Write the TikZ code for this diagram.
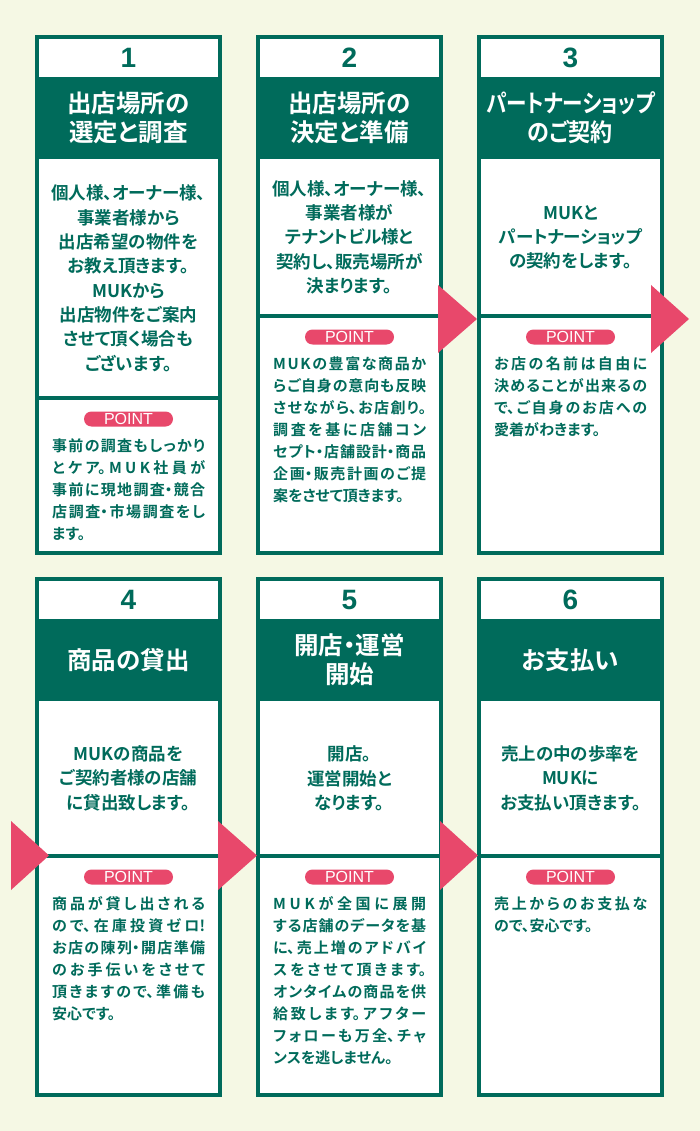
\documentclass[tikz,border=0pt]{standalone}
\usepackage{fontspec}
\setmainfont{Noto Sans CJK JP}[BoldFont={Noto Sans CJK JP Bold},RawFeature=+palt]
\newfontfamily\numfont{Liberation Sans}
\definecolor{bg}{HTML}{F5F8E4}
\definecolor{mg}{HTML}{006B5B}
\definecolor{pk}{HTML}{E8486B}
\tikzset{
 numtxt/.style={font=\numfont\bfseries\fontsize{28}{28}\selectfont, text=mg, inner sep=0},
 headtxt/.style={font=\bfseries\fontsize{24.5}{29}\selectfont, text=white, align=center, inner sep=0},
 bodytxt/.style={font=\bfseries\fontsize{17.5}{24.3}\selectfont, text=mg, align=center, inner sep=0},
 pill/.style={fill=pk, rounded corners=7.5, minimum width=89, minimum height=15, inner sep=0, text=white, font=\numfont\fontsize{16}{16}\selectfont},
 pointtxt/.style={inner sep=0, anchor=base west, text=mg},
 tri/.style={fill=pk},
 cardline/.style={draw=mg, line width=4}
}
\newcommand\lsp{\hspace{0pt plus 6pt}}
\newcommand\muk{M\lsp U\lsp K}
\newcommand\ptext[1]{\parbox[t]{153pt}{\bfseries\fontsize{15}{22}\selectfont\XeTeXlinebreaklocale "ja"\XeTeXlinebreakskip=0pt plus 6pt\relax\tolerance=10000\parindent=0pt\parfillskip=0pt plus 1fil\leftskip=0pt\rightskip=0pt #1\par}}
% #1 name, #2 left x, #3 top y, #4 divider y, #5 number, #6 header, #7 body, #8 point
\newcommand\mkcard[8]{%
 \fill[white] (#2,#3) rectangle ({#2+187},{#3+520});
 \fill[mg] (#2,{#3+42}) rectangle ({#2+187},{#3+124});
 \draw[cardline] (#2,#4) -- ({#2+187},#4);
 \draw[cardline] ({#2+2},{#3+2}) rectangle ({#2+185},{#3+518});
 \node[numtxt] (n#1) at ({#2+93.5},{#3+22.5}) {#5};
 \node[headtxt] (h#1) at ({#2+93.5},{#3+83}) {#6};
 \node[bodytxt] (b#1) at ({#2+93.5},{(#3+124+#4)/2}) {#7};
 \node[pill] (p#1) at ({#2+93.5},{#4+21.5}) {POINT};
 \node[pointtxt] (t#1) at ({#2+17},{#4+54}) {\ptext{#8}};
}
\begin{document}
\begin{tikzpicture}[x=1pt,y=-1pt]
\useasboundingbox (0,0) rectangle (700,1131);
\fill[bg] (0,0) rectangle (700,1131);
\mkcard{1}{35}{35}{397.5}{1}{出店場所の\\選定と調査}{個人様、オーナー様、\\事業者様から\\出店希望の物件を\\お教え頂きます。\\MUKから\\出店物件をご案内\\させて頂く場合も\\ございます。}{事前の調査もしっかり\linebreak とケア。\muk 社員が\linebreak 事前に現地調査・競合\linebreak 店調査・市場調査をし\linebreak ます。}
\mkcard{2}{256}{35}{315.5}{2}{出店場所の\\決定と準備}{個人様、オーナー様、\\事業者様が\\テナントビル様と\\契約し、販売場所が\\決まります。}{\muk の豊富な商品か\linebreak らご自身の意向も反映\linebreak させながら、お店創り。\linebreak 調査を基に店舗コン\linebreak セプト・店舗設計・商品\linebreak 企画・販売計画のご提\linebreak 案をさせて頂きます。}
\mkcard{3}{477}{35}{315.5}{3}{\scalebox{0.84}[1]{パートナーショップ}\\\scalebox{0.9}[1]{のご契約}}{MUKと\\パートナーショップ\\の契約をします。}{お店の名前は自由に\linebreak 決めることが出来るの\linebreak で、ご自身のお店への\linebreak 愛着がわきます。}
\mkcard{4}{35}{577}{855.5}{4}{商品の貸出}{MUKの商品を\\ご契約者様の店舗\\に貸出致します。}{商品が貸し出される\linebreak ので、在庫投資ゼロ!\linebreak お店の陳列・開店準備\linebreak のお手伝いをさせて\linebreak 頂きますので、準備も\linebreak 安心です。}
\mkcard{5}{256}{577}{855.5}{5}{開店・運営\\開始}{開店。\\運営開始と\\なります。}{\muk が全国に展開\linebreak する店舗のデータを基\linebreak に、売上増のアドバイ\linebreak スをさせて頂きます。\linebreak オンタイムの商品を供\linebreak 給致します。アフター\linebreak フォローも万全、チャ\linebreak ンスを逃しません。}
\mkcard{6}{477}{577}{855.5}{6}{お支払い}{売上の中の歩率を\\MUKに\\お支払い頂きます。}{売上からのお支払な\linebreak ので、安心です。}
% arrows
\fill[tri] (438,285) -- (438,353) -- (477,319) -- cycle;
\fill[tri] (651,285) -- (651,353) -- (689,319) -- cycle;
\fill[tri] (11,821) -- (11,890) -- (49,855.5) -- cycle;
\fill[tri] (218,821) -- (218,890) -- (257,855.5) -- cycle;
\fill[tri] (440,821) -- (440,890) -- (478,855.5) -- cycle;
\end{tikzpicture}
\end{document}
